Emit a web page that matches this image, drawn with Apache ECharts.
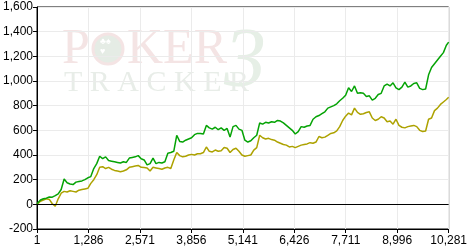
<!DOCTYPE html>
<html>
<head>
<meta charset="utf-8">
<script src="https://cdn.jsdelivr.net/npm/echarts@6/dist/echarts.min.js"></script>
<style>
html,body{margin:0;padding:0;background:#fff;}
#chart{width:470px;height:251px;}
</style>
</head>
<body>
<div id="chart"></div>
<script>
// Hand numbers at which values were read
const hands = [
  1, 86, 160, 234, 308, 382, 456, 530, 604, 678,
  752, 826, 900, 974, 1048, 1122, 1196, 1270, 1344, 1418,
  1492, 1566, 1640, 1714, 1788, 1862, 1936, 2010, 2084, 2158,
  2232, 2306, 2380, 2454, 2528, 2602, 2676, 2750, 2824, 2898,
  2972, 3046, 3120, 3194, 3268, 3342, 3416, 3490, 3564, 3638,
  3712, 3786, 3860, 3934, 4008, 4082, 4156, 4230, 4304, 4378,
  4452, 4526, 4600, 4674, 4748, 4822, 4896, 4970, 5044, 5118,
  5192, 5266, 5340, 5414, 5488, 5562, 5636, 5710, 5784, 5858,
  5932, 6006, 6080, 6154, 6228, 6302, 6376, 6450, 6524, 6598,
  6672, 6746, 6820, 6894, 6968, 7042, 7116, 7190, 7264, 7338,
  7412, 7486, 7560, 7634, 7708, 7782, 7856, 7930, 8004, 8078,
  8152, 8226, 8300, 8374, 8448, 8522, 8596, 8670, 8744, 8818,
  8892, 8966, 9040, 9114, 9188, 9262, 9336, 9410, 9484, 9558,
  9632, 9706, 9780, 9854, 9928, 10002, 10076, 10150, 10224, 10281
];
// Green series (total winnings)
const greenVals = [
  5, 35, 45, 50, 60, 58, 70, 85, 120, 205,
  175, 165, 160, 180, 185, 190, 200, 215, 225, 290,
  330, 390, 370, 385, 355, 350, 345, 340, 335, 345,
  340, 375, 380, 385, 395, 370, 360, 320, 330, 375,
  330, 340, 335, 345, 415, 420, 430, 560, 510, 505,
  520, 530, 540, 565, 575, 575, 570, 640, 620, 610,
  625, 605, 620, 600, 615, 545, 630, 640, 610, 600,
  520, 505, 515, 540, 560, 660, 650, 665, 660, 670,
  665, 680, 675, 660, 640, 620, 600, 570, 590, 630,
  625, 635, 640, 690, 710, 720, 735, 750, 780, 790,
  800, 815, 840, 860, 885, 945, 915, 960, 900, 905,
  900, 875, 880, 845, 860, 890, 900, 960, 975, 960,
  985, 945, 930, 950, 990, 950, 960, 980, 985, 940,
  930, 935, 1050, 1110, 1140, 1170, 1200, 1230, 1290, 1315
];
// Olive series
const oliveVals = [
  0, 25, 35, 45, 40, 5, -15, 45, 90, 105,
  100, 110, 105, 100, 115, 120, 125, 130, 170, 200,
  240, 300, 305, 290, 300, 285, 275, 270, 265, 270,
  280, 300, 305, 310, 315, 300, 298, 295, 270, 300,
  295, 290, 285, 295, 300, 290, 360, 420, 395, 385,
  390, 400, 405, 400, 410, 410, 420, 465, 430, 425,
  440, 430, 435, 460, 455, 420, 445, 455, 430, 400,
  390, 395, 400, 440, 460, 560, 540, 530, 535, 525,
  520, 505, 495, 485, 480, 465, 470, 460, 470, 480,
  485, 490, 500, 495, 505, 550, 540, 545, 560, 575,
  580, 595, 630, 680, 715, 740, 725, 780, 745, 730,
  735, 745, 750, 700, 680, 690, 710, 700, 670, 675,
  650, 690, 640, 625, 620, 630, 635, 640, 630, 600,
  590, 595, 690, 700, 760, 780, 810, 830, 850, 868
];

const fmt = n => n.toLocaleString('en-US');
const toPairs = vals => hands.map((h, i) => [h - 1, vals[i]]);

const chart = echarts.init(document.getElementById('chart'), null, {renderer: 'canvas'});
const labelFont = {color: '#000', fontSize: 12, fontFamily: 'Liberation Sans, Arial, sans-serif'};

chart.setOption({
  animation: false,
  backgroundColor: '#fff',
  grid: {left: 34, right: 18, top: 7, bottom: 22, show: true, borderColor: '#000', borderWidth: 1, backgroundColor: 'transparent'},
  graphic: [
    {type: 'text', z: -10, left: 62, top: 25, style: {text: 'P', fontFamily: 'Liberation Serif, serif', fontSize: 50, fill: '#f4e4e4'}},
    {type: 'circle', z: -10, shape: {cx: 108, cy: 49, r: 15}, style: {fill: '#e5ece5', stroke: '#f4e4e4', lineWidth: 3}},
    {type: 'text', z: -9, left: 100, top: 37, style: {text: '\u2663\u2660\n\u2665', fontSize: 9, lineHeight: 10, fill: '#ffffff', align: 'center'}},
    {type: 'text', z: -10, left: 127, top: 25, style: {text: 'KER', fontFamily: 'Liberation Serif, serif', fontSize: 50, fill: '#f4e4e4'}},
    {type: 'text', z: -10, left: 64, top: 68, style: {text: 'T R A C K E R', fontFamily: 'Liberation Serif, serif', fontSize: 30, fill: '#e8ede8'}},
    {type: 'text', z: -10, left: 224, top: 22, style: {text: '3', fontFamily: 'Liberation Serif, serif', fontSize: 84, fontStyle: 'italic', fill: '#e6efe6'}}
  ],
  xAxis: {
    type: 'value', min: 0, max: 10280, interval: 1285,
    axisLine: {show: true, onZero: false, lineStyle: {color: '#000', width: 1}},
    axisTick: {show: true, length: 4, lineStyle: {color: '#000'}},
    axisLabel: Object.assign({margin: 6, formatter: v => fmt(v + 1)}, labelFont),
    splitLine: {show: true, lineStyle: {color: '#ebebeb', width: 1}}
  },
  yAxis: {
    type: 'value', min: -200, max: 1600, interval: 200,
    axisLine: {show: true, lineStyle: {color: '#000', width: 1}},
    axisTick: {show: true, length: 4, lineStyle: {color: '#000'}},
    axisLabel: Object.assign({margin: 4, formatter: v => fmt(v)}, labelFont),
    splitLine: {show: true, lineStyle: {color: '#ebebeb', width: 1}}
  },
  series: [
    {
      type: 'line', data: toPairs(oliveVals), showSymbol: false, symbol: 'none',
      lineStyle: {color: '#ada200', width: 1.5}, z: 3,
      markLine: {silent: true, symbol: 'none', label: {show: false}, lineStyle: {color: '#000', width: 1, type: 'solid'}, data: [{yAxis: 0}]}
    },
    {
      type: 'line', data: toPairs(greenVals), showSymbol: false, symbol: 'none',
      lineStyle: {color: '#05a305', width: 1.5}, z: 4
    }
  ]
});
</script>
</body>
</html>
